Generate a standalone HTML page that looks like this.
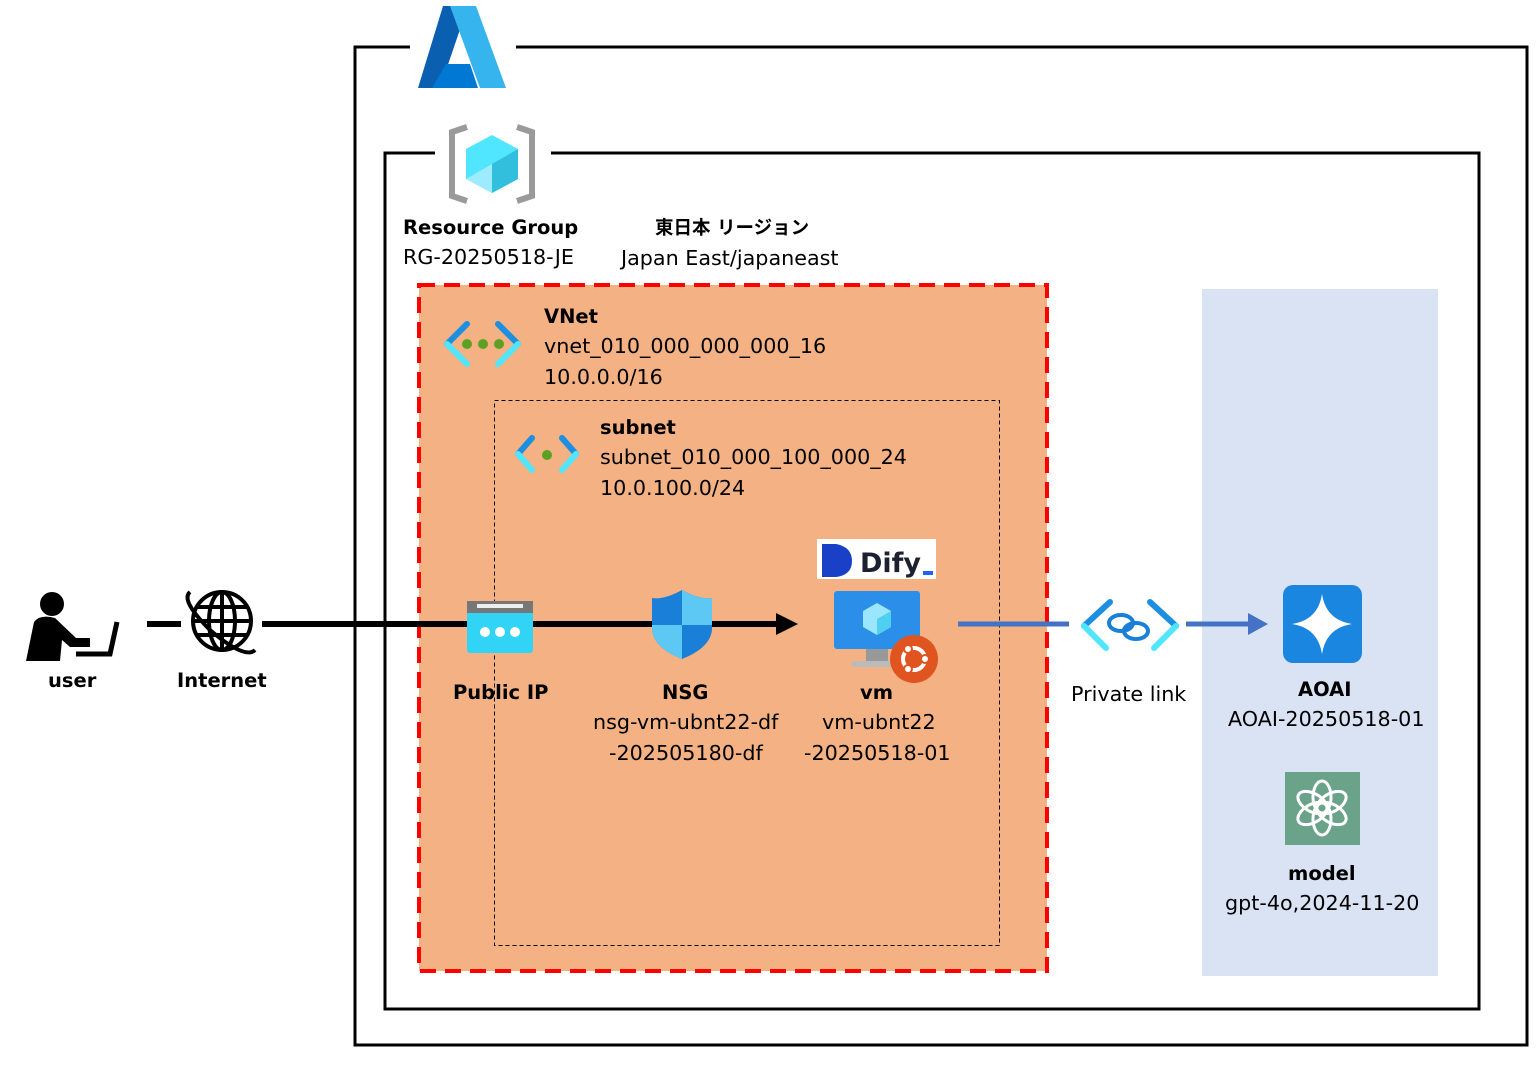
<!DOCTYPE html>
<html><head><meta charset="utf-8"><style>
html,body{margin:0;padding:0;background:#fff;}
svg{display:block;}
text{font-family:"DejaVu Sans","Liberation Sans","Noto Sans CJK JP",sans-serif;font-size:20.7px;fill:#000;}
.b{font-weight:bold;font-size:19.5px;}
</style></head><body>
<svg width="1538" height="1068" viewBox="0 0 1538 1068" xmlns="http://www.w3.org/2000/svg">
<path d="M410 47 H355 V1045 H1527 V47 H516" fill="none" stroke="#000" stroke-width="3"/>
<path d="M435 153 H385 V1009 H1479 V153 H551" fill="none" stroke="#000" stroke-width="3"/>
<g>
<path d="M443 6 H468 L440 88 H418 Z" fill="#0a5fb0"/>
<path d="M450 6 H476 L506 88 H480 Z" fill="#35b4ee"/>
<path d="M446 64 H470 L478 88 H432 Z" fill="#0078d4"/>
</g>
<g>
<path d="M467 127 L452 132 V196 L467 201" fill="none" stroke="#9a9a9a" stroke-width="6"/>
<path d="M517 127 L532 132 V196 L517 201" fill="none" stroke="#9a9a9a" stroke-width="6"/>
<polygon points="492,135 518,149 518,179 492,193 466,179 466,149" fill="#50e6ff"/>
<polygon points="492,164 518,149 518,179 492,193" fill="#32bedd"/>
<polygon points="492,164 466,179 492,193" fill="#9cebff"/>
</g>
<text x="403" y="234" class="b">Resource Group</text>
<text x="403" y="264">RG-20250518-JE</text>
<text x="655" y="234" class="b" style="font-size:18.5px">東日本 リージョン</text>
<text x="621" y="265">Japan East/japaneast</text>
<rect x="1202" y="289" width="236" height="687" fill="#dae3f3"/>
<rect x="419" y="285" width="628" height="686" fill="#f4b183" stroke="#ff0000" stroke-width="4" stroke-dasharray="16,9"/>
<rect x="494.5" y="400.5" width="505" height="545" fill="none" stroke="#000" stroke-width="1" stroke-dasharray="4,3"/>
<g stroke-width="6" fill="none" stroke-linecap="round">
<path d="M467 324 L447 344" stroke="#1c8fe0"/><path d="M447 344 L467 364" stroke="#50e6ff"/>
<path d="M498 324 L518 344" stroke="#1c8fe0"/><path d="M518 344 L498 364" stroke="#50e6ff"/>
</g>
<circle cx="467" cy="344" r="5" fill="#5ea024"/><circle cx="483" cy="344" r="5" fill="#5ea024"/><circle cx="499" cy="344" r="5" fill="#5ea024"/>
<text x="544" y="323" class="b">VNet</text>
<text x="544" y="353">vnet_010_000_000_000_16</text>
<text x="544" y="384">10.0.0.0/16</text>
<g stroke-width="6" fill="none" stroke-linecap="round">
<path d="M532 438 L518 454" stroke="#1c8fe0"/><path d="M518 454 L532 470" stroke="#50e6ff"/>
<path d="M562 438 L576 454" stroke="#1c8fe0"/><path d="M576 454 L562 470" stroke="#50e6ff"/>
</g>
<circle cx="547" cy="455" r="5" fill="#5ea024"/>
<text x="600" y="434" class="b">subnet</text>
<text x="600" y="464">subnet_010_000_100_000_24</text>
<text x="600" y="495">10.0.100.0/24</text>
<line x1="147" y1="624" x2="181" y2="624" stroke="#000" stroke-width="6"/>
<line x1="262" y1="624" x2="780" y2="624" stroke="#000" stroke-width="6"/>
<polygon points="776,613 798,624 776,635" fill="#000"/>
<circle cx="52" cy="604" r="12" fill="#000"/>
<path d="M34 622 Q40 614 55 618 L76 638 H90 V647 H70 L62 640 L60 661 H26 Z" fill="#000"/>
<path d="M117 622 L110 654 H76" fill="none" stroke="#000" stroke-width="5"/>
<text x="48" y="687" class="b">user</text>
<g fill="none" stroke="#000" stroke-width="4">
<circle cx="222" cy="621" r="29"/>
<ellipse cx="222" cy="621" rx="13" ry="29"/>
<line x1="193" y1="621" x2="251" y2="621"/>
<line x1="197" y1="607" x2="247" y2="607"/>
<line x1="197" y1="635" x2="247" y2="635"/>
<line x1="222" y1="592" x2="222" y2="650"/>
<path d="M190 592 Q180 600 210 630 Q245 660 255 650"/>
</g>
<text x="177" y="687" class="b">Internet</text>
<rect x="467" y="601" width="66" height="52" rx="3" fill="#32d4f5"/>
<rect x="467" y="601" width="66" height="12" fill="#777"/>
<rect x="477" y="604" width="46" height="4" fill="#eee"/>
<circle cx="485" cy="632" r="5" fill="#fff"/><circle cx="500" cy="632" r="5" fill="#fff"/><circle cx="515" cy="632" r="5" fill="#fff"/>
<text x="453" y="699" class="b">Public IP</text>
<path d="M682 590 Q700 600 712 598 V630 Q710 648 682 659 Q654 648 652 630 V598 Q664 600 682 590 Z" fill="#1a7fd9"/>
<path d="M682 590 Q700 600 712 598 V625 H682 Z" fill="#5ec8f5"/>
<path d="M682 625 H652 V630 Q654 648 682 659 Z" fill="#5ec8f5"/>
<text x="662" y="699" class="b">NSG</text>
<text x="593" y="729">nsg-vm-ubnt22-df</text>
<text x="609" y="760">-202505180-df</text>
<rect x="817" y="539" width="119" height="40" fill="#fff"/>
<path d="M822 544 H836 Q852 547 852 561 Q852 575 836 577 H822 Z" fill="#1a40c8"/>
<text x="860" y="572" style="font-size:27px;font-weight:bold;fill:#1c2030">Dify</text>
<rect x="923" y="571" width="10" height="4" fill="#1c64f2"/>
<rect x="834" y="591" width="86" height="58" rx="3" fill="#2b8ee8"/>
<polygon points="877,603 891,611 891,627 877,635 863,627 863,611" fill="#9ae6ff"/>
<polygon points="877,619 891,611 891,627 877,635" fill="#50d0f0"/>
<rect x="866" y="649" width="22" height="12" fill="#999"/>
<rect x="852" y="661" width="46" height="6" fill="#bbb"/>
<circle cx="914" cy="659" r="24" fill="#e05420"/>
<circle cx="914" cy="659" r="11" fill="none" stroke="#fff" stroke-width="4"/>
<circle cx="925" cy="659" r="4" fill="#fff" stroke="#e05420" stroke-width="2"/>
<circle cx="908" cy="649" r="4" fill="#fff" stroke="#e05420" stroke-width="2"/>
<circle cx="908" cy="669" r="4" fill="#fff" stroke="#e05420" stroke-width="2"/>
<text x="860" y="699" class="b">vm</text>
<text x="822" y="729">vm-ubnt22</text>
<text x="804" y="760">-20250518-01</text>
<line x1="958" y1="624" x2="1069" y2="624" stroke="#4472c4" stroke-width="5"/>
<line x1="1186" y1="624" x2="1252" y2="624" stroke="#4472c4" stroke-width="5"/>
<polygon points="1248,613 1268,624 1248,635" fill="#4472c4"/>
<g stroke-width="6" fill="none" stroke-linecap="round">
<path d="M1110 602 L1084 626" stroke="#1c8fe0"/><path d="M1084 626 L1106 648" stroke="#50e6ff"/>
<path d="M1150 602 L1176 626" stroke="#1c8fe0"/><path d="M1176 626 L1154 648" stroke="#50e6ff"/>
</g>
<g fill="none" stroke="#1a7fd9" stroke-width="4">
<ellipse cx="1121" cy="623" rx="12" ry="8"/><ellipse cx="1136" cy="631" rx="12" ry="8"/>
</g>
<text x="1071" y="701">Private link</text>
<rect x="1283" y="585" width="79" height="78" rx="10" fill="#1b86e0"/>
<path d="M1322 594 Q1326 620 1352 624 Q1326 628 1322 654 Q1318 628 1292 624 Q1318 620 1322 594 Z" fill="#fff"/>
<text x="1298" y="696" class="b">AOAI</text>
<text x="1228" y="726">AOAI-20250518-01</text>
<rect x="1285" y="772" width="75" height="73" fill="#6aa38a"/>
<g fill="none" stroke="#fff" stroke-width="3">
<ellipse cx="1322" cy="797" rx="9" ry="16" transform="rotate(0 1322 808)"/>
<ellipse cx="1322" cy="797" rx="9" ry="16" transform="rotate(60 1322 808)"/>
<ellipse cx="1322" cy="797" rx="9" ry="16" transform="rotate(120 1322 808)"/>
<ellipse cx="1322" cy="797" rx="9" ry="16" transform="rotate(180 1322 808)"/>
<ellipse cx="1322" cy="797" rx="9" ry="16" transform="rotate(240 1322 808)"/>
<ellipse cx="1322" cy="797" rx="9" ry="16" transform="rotate(300 1322 808)"/>
</g>
<text x="1288" y="880" class="b">model</text>
<text x="1225" y="910">gpt-4o,2024-11-20</text>
</svg>
</body></html>
